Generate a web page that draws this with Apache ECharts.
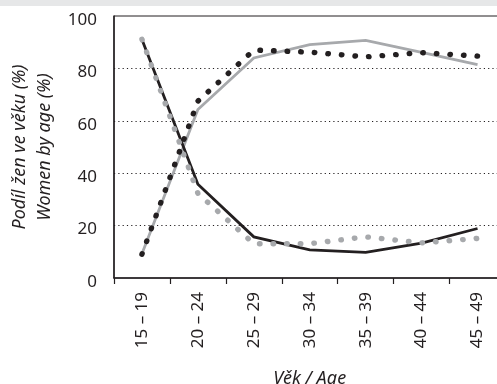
<!DOCTYPE html>
<html>
<head>
<meta charset="utf-8">
<script src="https://cdn.jsdelivr.net/npm/echarts@6/dist/echarts.min.js"></script>
<style>
html,body{margin:0;padding:0;background:#fff;}
#chart{width:497px;height:384px;}
</style>
</head>
<body>
<div id="chart"></div>
<script>
const categories = ['15 – 19', '20 – 24', '25 – 29', '30 – 34', '35 – 39', '40 – 44', '45 – 49'];
const yTicks = [0, 20, 40, 60, 80, 100];
// solid lines
const graySolid = [9.3, 64.3, 84.0, 89.1, 90.7, 86.1, 81.4];
const blackSolid = [91.0, 35.8, 15.7, 10.7, 9.8, 13.3, 18.9];
// dotted lines
const grayDotted = [91.1, 32.3, 13.1, 13.1, 15.7, 13.4, 15.1];
const blackDotted = [9.1, 67.5, 87.0, 86.2, 84.4, 86.0, 84.7];

const BLACK = '#231f20';
const GRAY = '#a7a9ac';
const FONT = 'Noto Sans';

const chart = echarts.init(document.getElementById('chart'), null, {renderer: 'canvas'});
function solid(data, color) {
  return {type: 'line', data: data, symbol: 'none', animation: false,
    lineStyle: {color: color, width: 2.8, cap: 'butt', join: 'miter'}};
}
function dotted(data, color) {
  return {type: 'line', data: data, symbol: 'none', animation: false,
    lineStyle: {color: color, width: 5.4, type: [0.5, 13.1], cap: 'round', join: 'round'}};
}
chart.setOption({
  animation: false,
  graphic: [{type: 'rect', shape: {x: 0, y: 0, width: 497, height: 6}, style: {fill: '#e6e7e8'}}],
  grid: {left: 114, top: 16, width: 391.5, height: 262, show: true, borderColor: BLACK, borderWidth: 1,
    backgroundColor: 'transparent', containLabel: false, outerBoundsMode: 'none'},
  xAxis: {
    type: 'category', data: categories, boundaryGap: true,
    axisLine: {lineStyle: {color: BLACK, width: 1.5}},
    axisTick: {show: true, length: 6, lineStyle: {color: BLACK, width: 1.2}},
    axisLabel: {rotate: 90, margin: 14, color: BLACK, fontFamily: FONT, fontSize: 17},
    name: 'Věk / Age', nameLocation: 'middle', nameGap: 92,
    nameTextStyle: {color: BLACK, fontFamily: FONT, fontSize: 18, fontStyle: 'italic'}
  },
  yAxis: {
    type: 'value', min: yTicks[0], max: yTicks[yTicks.length - 1], interval: 20,
    axisLine: {show: true, lineStyle: {color: BLACK, width: 1.5}},
    axisTick: {show: false},
    axisLabel: {margin: 17, color: BLACK, fontFamily: FONT, fontSize: 17, verticalAlign: 'top', lineHeight: 8,
      formatter: function (v) { return yTicks.indexOf(v) >= 0 ? String(v) : ''; }},
    splitLine: {show: true, showMinLine: false, showMaxLine: false,
      lineStyle: {color: '#231f20', width: 1, type: [1.2, 3.1]}},
    name: 'Podíl žen ve věku (%)\nWomen by age (%)', nameLocation: 'middle', nameGap: 56,
    nameTextStyle: {color: BLACK, fontFamily: FONT, fontSize: 18, fontStyle: 'italic', lineHeight: 25}
  },
  series: [
    solid(graySolid, GRAY),
    solid(blackSolid, BLACK),
    dotted(grayDotted, GRAY),
    dotted(blackDotted, BLACK)
  ]
});
</script>
</body>
</html>
